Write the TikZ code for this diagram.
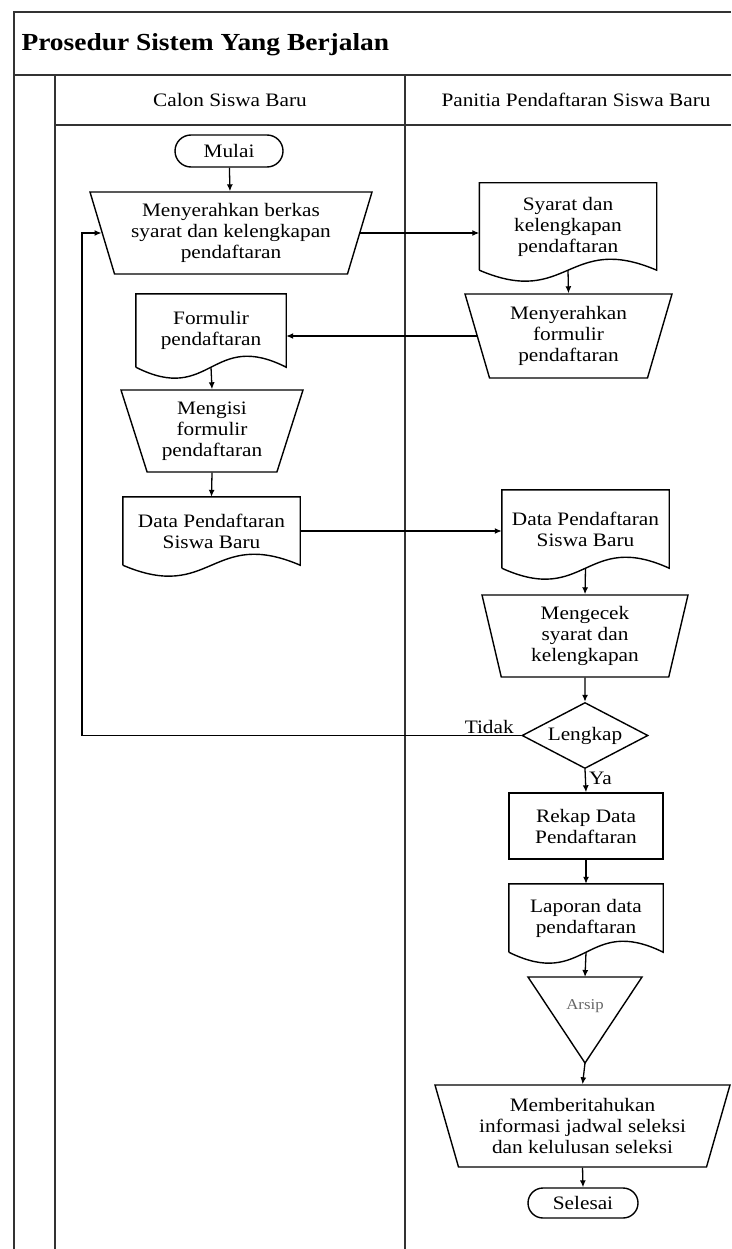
\documentclass[tikz,border=0pt]{standalone}
\usepackage{fontspec}
\setmainfont{Liberation Serif}[FakeStretch=1.12]
\usetikzlibrary{shapes.geometric,shapes.misc,arrows.meta}

\tikzset{
	lane/.style={line width=2.4pt, color=black!80},
	flow/.style={line width=1.3pt, -{Latex[length=7pt,width=6pt]}},
	terminal/.style={rounded rectangle, draw, line width=1.4pt, minimum width=108pt, minimum height=32pt, inner sep=0pt},
	manualop/.style={trapezium, shape border rotate=180, trapezium stretches body, draw, line width=1.4pt, align=center, inner sep=0pt},
	docbox/.style={rectangle, align=center, inner sep=0pt},
	process/.style={rectangle, draw, line width=1.4pt, align=center, inner sep=0pt},
	decision/.style={diamond, aspect=2, draw, line width=1.4pt, inner sep=0pt, minimum width=126pt, minimum height=66pt}
}
\def\docoutline(#1){\draw[line width=1.4pt] (#1.south west) -- (#1.north west) -- (#1.north east) -- (#1.south east) .. controls ([yshift=38pt]#1.south) and ([yshift=-38pt]#1.south) .. (#1.south west);}

\begin{document}
\begin{tikzpicture}[x=1pt, y=1pt, font=\fontsize{19pt}{21pt}\selectfont]
	%%%%% START %%%%%
	\useasboundingbox (0, 0) rectangle (731, -1249);
	
	% swimlane frame
	\draw[lane] (731, -12) -- (14, -12) -- (14, -1249);
	\draw[lane] (14, -75) -- (731, -75);
	\draw[lane] (55, -125) -- (731, -125);
	\draw[lane] (55, -75) -- (55, -1249);
	\draw[lane] (405, -75) -- (405, -1249);
	
	\node[anchor=west, font=\fontsize{24.5pt}{26pt}\selectfont\bfseries] (judul) at (18, -45) {Prosedur Sistem Yang Berjalan};
	\node (lane1) at (230, -100) {Calon Siswa Baru};
	\node (lane2) at (576, -100) {Panitia Pendaftaran Siswa Baru};
	
	% calon siswa baru
	\node[terminal] (mulai) at (229, -151) {Mulai};
	\node[manualop, trapezium angle=67.5, minimum width=282pt, minimum height=82pt] (serah) at (231, -233) {Menyerahkan berkas\\syarat dan kelengkapan\\pendaftaran};
	\node[docbox, minimum width=150pt, minimum height=73pt] (formulir) at (211, -330.5) {Formulir\\pendaftaran};
	\node[manualop, trapezium angle=66, minimum width=182pt, minimum height=82pt] (mengisi) at (212, -431) {Mengisi\\formulir\\pendaftaran};
	\node[docbox, minimum width=177pt, minimum height=68pt] (dataA) at (211.5, -531) {Data Pendaftaran\\Siswa Baru};
	\coordinate (loopx) at (82, 0);
	
	% panitia pendaftaran
	\node[docbox, minimum width=177pt, minimum height=87pt] (syarat) at (568, -226.5) {Syarat dan\\kelengkapan\\pendaftaran};
	\node[manualop, trapezium angle=67.5, minimum width=207pt, minimum height=84pt] (serahform) at (568.5, -336) {Menyerahkan\\formulir\\pendaftaran};
	\node[docbox, minimum width=167pt, minimum height=78pt] (dataB) at (585.5, -529) {Data Pendaftaran\\Siswa Baru};
	\node[manualop, trapezium angle=72, minimum width=206pt, minimum height=82pt] (mengecek) at (585, -636) {Mengecek\\syarat dan\\kelengkapan};
	\node[decision] (lengkap) at (585, -735.5) {Lengkap};
	\node[process, minimum width=154pt, minimum height=66pt] (rekap) at (586, -826) {Rekap Data\\Pendaftaran};
	\node[docbox, minimum width=154pt, minimum height=68pt] (laporan) at (586, -918) {Laporan data\\pendaftaran};
	\node[text=black!60, font=\fontsize{15pt}{16pt}\selectfont] (arsip) at (585, -1006) {Arsip};
	\draw[line width=1.4pt] (arsip.center) ++(-57, 29) -- ++(114, 0) -- ++(-57, -86) -- cycle;
	\coordinate (arsiptop) at ([yshift=29pt]arsip.center);
	\coordinate (arsipapex) at ([yshift=-57pt]arsip.center);
	\node[manualop, trapezium angle=67, minimum width=295pt, minimum height=82pt] (beritahu) at (582.5, -1126) {Memberitahukan\\informasi jadwal seleksi\\dan kelulusan seleksi};
	\node[terminal, minimum width=110pt, minimum height=30pt] (selesai) at (583, -1203) {Selesai};
	
	\docoutline(syarat)
	\docoutline(formulir)
	\docoutline(dataA)
	\docoutline(dataB)
	\docoutline(laporan)
	
	% arrows
	\draw[flow] (mulai) -- (serah);
	\draw[flow] (serah.east) -- (serah.east -| syarat.west);
	\draw[flow] (syarat.south) -- (serahform.north);
	\draw[flow] (serahform.west) -- (serahform.west -| formulir.east);
	\draw[flow] (formulir.south) -- (mengisi.north);
	\draw[flow] (mengisi.south) -- (dataA.north);
	\draw[flow] (dataA.east) -- (dataA.east -| dataB.west);
	\draw[flow] (dataB.south) -- (mengecek.north);
	\draw[flow] (mengecek.south) -- (lengkap.north);
	\draw[flow] (lengkap.west) node[anchor=south east, xshift=-6pt, inner sep=1pt] {Tidak} -- (lengkap.west -| loopx) |- (serah.west);
	\draw[flow] (lengkap.south) -- node[right, pos=0.4, inner sep=3pt] {Ya} (rekap.north);
	\draw[flow] (rekap.south) -- (laporan.north);
	\draw[flow] (laporan.south) -- (arsiptop);
	\draw[flow] (arsipapex) -- (beritahu.north);
	\draw[flow] (beritahu.south) -- (selesai.north);
	
	%%%%% END %%%%%
\end{tikzpicture}
\end{document}
